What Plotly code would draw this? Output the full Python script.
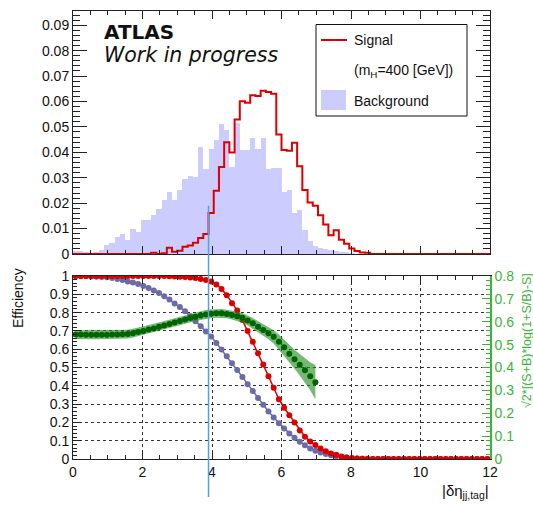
import numpy as np
import plotly.graph_objects as go

# ---------------- data ----------------
bin_width = 0.15
n_bins = 80
cut_value = 3.9
cut_hist_height = 0.019

signal = [0, 0, 0, 0, 0, 0, 0, 0, 0, 0, 0, 0, 0, 0, 0,
          0.0005, 0, 0.0003, 0.0025, 0.0009, 0.0013, 0.0029, 0.0033, 0.0044, 0.0063,
          0.0079, 0.0161, 0.0249, 0.0342, 0.0440, 0.0399, 0.0529, 0.0601, 0.0595, 0.0625,
          0.0622, 0.0642, 0.0637, 0.0630, 0.0470, 0.0409, 0.0406, 0.0438, 0.0345, 0.0252,
          0.0203, 0.0190, 0.0152, 0.0116, 0.0074, 0.0093, 0.0056, 0.0040, 0.0022, 0.0012,
          0.0006, 0.0005, 0, 0, 0, 0, 0, 0, 0, 0, 0, 0, 0, 0, 0, 0, 0, 0, 0, 0, 0, 0, 0, 0, 0]

background = [0.0012, 0.0010, 0.0006, 0.0003, 0.0008, 0.0016, 0.0037, 0.0043, 0.0067, 0.0079,
              0.0054, 0.0097, 0.0087, 0.0135, 0.0135, 0.0152, 0.0179, 0.0214, 0.0242, 0.0214,
              0.0251, 0.0295, 0.0307, 0.0303, 0.0421, 0.0336, 0.0415, 0.0450, 0.0513, 0.0487,
              0.0343, 0.0516, 0.0411, 0.0411, 0.0455, 0.0412, 0.0455, 0.0333, 0.0340, 0.0340,
              0.0245, 0.0252, 0.0160, 0.0175, 0.0093, 0.0050, 0.0030, 0.0025, 0.0020, 0.0015,
              0.0010, 0.0008, 0.0005, 0.0002, 0, 0, 0, 0, 0, 0,
              0, 0, 0, 0, 0, 0, 0, 0, 0, 0, 0, 0, 0, 0, 0, 0, 0, 0, 0, 0]

sig_eff = [1.0] * 15 + [1.0, 0.9995, 0.9995, 0.9992, 0.9967, 0.9958, 0.9945, 0.9917, 0.9884, 0.984,
                        0.9777, 0.9699, 0.9539, 0.9292, 0.8952, 0.8514, 0.8118, 0.7592, 0.6995, 0.6404,
                        0.5783, 0.5165, 0.4527, 0.3894, 0.3268, 0.2801, 0.2395, 0.1991, 0.1556, 0.1213,
                        0.0963, 0.0761, 0.0572, 0.0421, 0.0306, 0.0233, 0.0140, 0.0085, 0.0045, 0.0023,
                        0.0011, 0.0005] + [0.0] * 23

bkg_eff = [1.0, 0.999, 0.998, 0.997, 0.996, 0.995, 0.993, 0.989, 0.984, 0.978,
           0.970, 0.964, 0.956, 0.946, 0.934, 0.921, 0.907, 0.890, 0.871, 0.850,
           0.830, 0.807, 0.781, 0.753, 0.726, 0.697, 0.669, 0.634, 0.598, 0.561,
           0.523, 0.486, 0.448, 0.409, 0.371, 0.333, 0.296, 0.260, 0.227, 0.196,
           0.167, 0.140, 0.116, 0.094, 0.075, 0.058, 0.045, 0.035, 0.027, 0.020,
           0.015, 0.011, 0.008, 0.005, 0.003, 0.002, 0.001] + [0.0] * 23

significance = [0.544, 0.544, 0.543, 0.543, 0.543, 0.543, 0.543, 0.544, 0.544, 0.545,
                0.546, 0.550, 0.555, 0.560, 0.566, 0.571, 0.578, 0.584, 0.590, 0.597,
                0.603, 0.610, 0.616, 0.622, 0.627, 0.632, 0.635, 0.637, 0.637, 0.634,
                0.630, 0.624, 0.617, 0.606, 0.593, 0.578, 0.564, 0.550, 0.534, 0.513,
                0.488, 0.460, 0.436, 0.412, 0.388, 0.362, 0.336]

significance_err = [0.019] * 28 + [0.019, 0.019, 0.020, 0.020, 0.021, 0.022, 0.023, 0.024, 0.025, 0.027,
                                   0.029, 0.031, 0.034, 0.038, 0.042, 0.047, 0.053, 0.061, 0.075]

y_ticks_top = [0, 0.01, 0.02, 0.03, 0.04, 0.05, 0.06, 0.07, 0.08, 0.09]
y_ticks_eff = [0, 0.1, 0.2, 0.3, 0.4, 0.5, 0.6, 0.7, 0.8, 0.9, 1]
y_ticks_sig = [0, 0.1, 0.2, 0.3, 0.4, 0.5, 0.6, 0.7, 0.8]
x_ticks = [0, 2, 4, 6, 8, 10, 12]

# ---------------- geometry helpers ----------------
edges = np.arange(n_bins + 1) * bin_width
centers = edges[:-1] + bin_width / 2
n_sig = len(significance)
sig_x = centers[:n_sig]

W, H = 533, 506
ML, MR, MT, MB = 73, 43, 11, 47
PW, PH = W - ML - MR, H - MT - MB


def px(x):
    return (x - ML) / PW


def py(y):
    return (H - MB - y) / PH


top_dom = [py(254), 1.0]
bot_dom = [0.0, py(276)]
TOP_MAX = 0.0956

RED = '#dd0000'
BLUE_FILL = 'rgb(204,204,255)'
BLUE_PTS = '#6b6ba8'
GREEN_PTS = '#006400'
GREEN_AX = '#3cb43c'
FONT = 'Liberation Sans, Arial, sans-serif'

fig = go.Figure()

# top panel
fig.add_trace(go.Bar(x=centers, y=background, width=bin_width,
                     marker=dict(color=BLUE_FILL, line=dict(width=0)),
                     xaxis='x', yaxis='y', showlegend=False))
fig.add_trace(go.Scatter(x=list(edges), y=list(signal) + [signal[-1]], mode='lines',
                         line=dict(color=RED, width=2, shape='hv'),
                         xaxis='x', yaxis='y', showlegend=False))

# bottom panel
up = [s + e for s, e in zip(significance, significance_err)]
lo = [s - e for s, e in zip(significance, significance_err)]
fig.add_trace(go.Scatter(x=list(sig_x) + list(sig_x[::-1]), y=up + lo[::-1],
                         fill='toself', fillcolor='rgba(30,140,30,0.62)',
                         line=dict(width=0), mode='lines', hoverinfo='skip',
                         xaxis='x2', yaxis='y3', showlegend=False))
fig.add_trace(go.Scatter(x=centers, y=bkg_eff, mode='lines+markers',
                         line=dict(color=BLUE_PTS, width=1.5),
                         marker=dict(color=BLUE_PTS, size=6),
                         xaxis='x2', yaxis='y2', showlegend=False))
fig.add_trace(go.Scatter(x=centers, y=sig_eff, mode='lines+markers',
                         line=dict(color=RED, width=1.5),
                         marker=dict(color=RED, size=6),
                         xaxis='x2', yaxis='y2', showlegend=False))
fig.add_trace(go.Scatter(x=sig_x, y=significance, mode='markers',
                         marker=dict(color=GREEN_PTS, size=6),
                         xaxis='x2', yaxis='y3', showlegend=False))

axis_common = dict(showline=True, linecolor='#222', linewidth=1, zeroline=False,
                   ticks='inside', tickcolor='#222', automargin=False,
                   tickfont=dict(family=FONT, size=14, color='#111'))

fig.update_layout(
    width=W, height=H, autosize=False,
    margin=dict(l=ML, r=MR, t=MT, b=MB, pad=0, autoexpand=False),
    paper_bgcolor='white', plot_bgcolor='white',
    bargap=0, showlegend=False,
    font=dict(family=FONT, size=14, color='#111'),
    xaxis=dict(domain=[0, 1], anchor='y', range=[0, 12], tickvals=x_ticks,
               showticklabels=False, ticklen=8, mirror='ticks', showgrid=False,
               minor=dict(dtick=0.5, ticklen=4, ticks='inside', tickcolor='#222'),
               **axis_common),
    yaxis=dict(domain=top_dom, anchor='x', range=[0, TOP_MAX], tickvals=y_ticks_top,
               ticktext=[f'{v:g}' for v in y_ticks_top],
               ticklen=14, mirror='ticks', showgrid=False,
               minor=dict(dtick=0.002, ticklen=7, ticks='inside', tickcolor='#222'),
               **axis_common),
    xaxis2=dict(domain=[0, 1], anchor='y2', range=[0, 12], tickvals=x_ticks,
                ticktext=[str(v) for v in x_ticks],
                ticklen=8, mirror='ticks', showgrid=True, gridcolor='#333',
                griddash='dot', gridwidth=1,
                minor=dict(dtick=0.5, ticklen=4, ticks='inside', tickcolor='#222'),
                **axis_common),
    yaxis2=dict(domain=bot_dom, anchor='x2', range=[0, 1.0], tickvals=y_ticks_eff,
                ticktext=[f'{v:g}' for v in y_ticks_eff],
                ticklen=8, showgrid=True, gridcolor='#333', griddash='dot', gridwidth=1,
                minor=dict(dtick=0.02, ticklen=4, ticks='inside', tickcolor='#222'),
                **axis_common),
    yaxis3=dict(overlaying='y2', anchor='x2', side='right', range=[0, 0.8],
                tickvals=y_ticks_sig, ticktext=[f'{v:g}' for v in y_ticks_sig],
                showline=True, linecolor=GREEN_AX, linewidth=1.5, zeroline=False,
                ticks='inside', tickcolor=GREEN_AX, ticklen=8, showgrid=False,
                automargin=False,
                tickfont=dict(family=FONT, size=14, color=GREEN_AX),
                minor=dict(dtick=0.02, ticklen=4, ticks='inside', tickcolor=GREEN_AX)),
)

# cut line spanning both panels
y_top_cut = top_dom[0] + cut_hist_height / TOP_MAX * (top_dom[1] - top_dom[0])
shapes = [
    dict(type='line', xref='x', yref='paper', x0=cut_value, x1=cut_value,
         y0=py(497), y1=y_top_cut, line=dict(color='#5a9fd8', width=1.5)),
    # legend box
    dict(type='rect', xref='paper', yref='paper', x0=px(316), x1=px(467),
         y0=py(116), y1=py(24.5), line=dict(color='#111', width=1), fillcolor='white'),
    dict(type='line', xref='paper', yref='paper', x0=px(321), x1=px(347),
         y0=py(40), y1=py(40), line=dict(color=RED, width=2)),
    dict(type='rect', xref='paper', yref='paper', x0=px(321), x1=px(346),
         y0=py(110), y1=py(90), line=dict(width=0), fillcolor=BLUE_FILL),
]
fig.update_layout(shapes=shapes)

ann = []


def add_text(text, x, y, size=14, color='#111', xanchor='left', family=FONT, angle=0):
    ann.append(dict(text=text, xref='paper', yref='paper', x=x, y=y, showarrow=False,
                    xanchor=xanchor, yanchor='middle', textangle=angle,
                    font=dict(family=family, size=size, color=color)))


add_text('Signal', px(352), py(40))
add_text('(m<sub>H</sub>=400 [GeV])', px(352), py(71))
add_text('Background', px(352), py(101))
add_text('<b>ATLAS</b>', px(102), py(32), size=20, family='DejaVu Sans')
add_text('<i>Work in progress</i>', px(102), py(55), size=20.5, family='DejaVu Sans')
add_text('Efficiency', px(18), py(298), size=14, xanchor='center', angle=-90)
add_text('√2*[(S+B)*log(1+S/B)-S]', px(527), py(341), size=12.5, color=GREEN_AX,
         xanchor='center', angle=-90)
add_text('|δη<sub>jj,tag</sub>|', px(491), py(492), size=15, xanchor='right')
fig.update_layout(annotations=ann)

fig.write_html('out.html')
